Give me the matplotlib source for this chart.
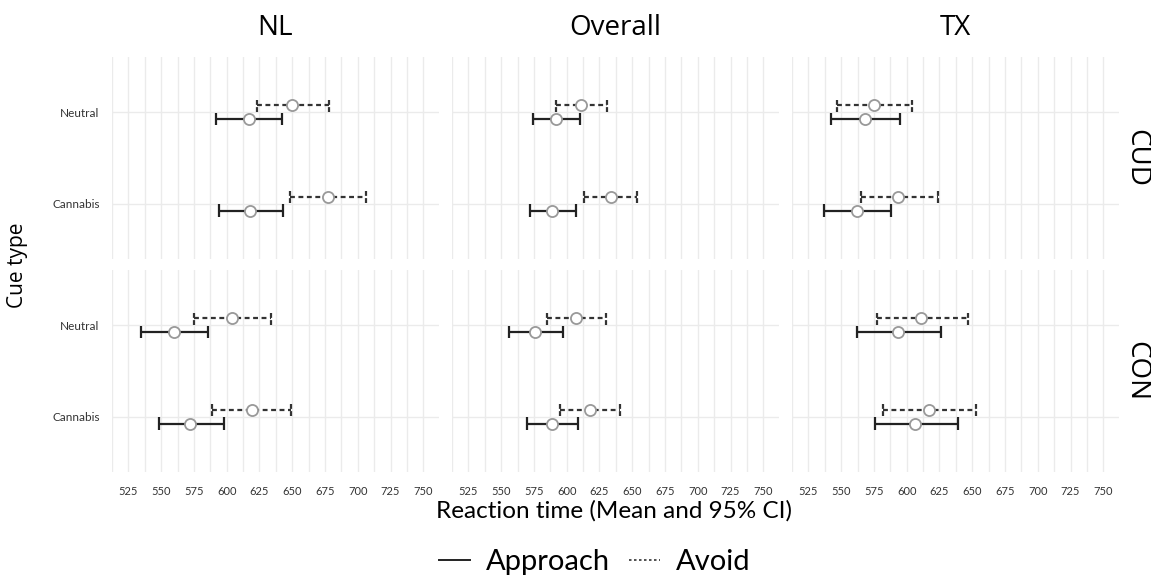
import matplotlib
matplotlib.use("Agg")
import matplotlib.pyplot as plt
from matplotlib.lines import Line2D
import numpy as np

W, H = 1151, 581
groups = ["NL", "Overall", "TX"]
rows = ["CUD", "CON"]
cues = ["Cannabis", "Neutral"]   # bottom to top
conds = ["Approach", "Avoid"]

# [Cannabis, Neutral] per group and row
approach_mean = {
    "NL":      {"CUD": [618, 617], "CON": [572, 560]},
    "Overall": {"CUD": [589, 592], "CON": [589, 576]},
    "TX":      {"CUD": [562, 568], "CON": [606, 593]},
}
approach_lo = {
    "NL":      {"CUD": [594, 592], "CON": [548, 535]},
    "Overall": {"CUD": [572, 574], "CON": [570, 556]},
    "TX":      {"CUD": [537, 542], "CON": [576, 562]},
}
approach_hi = {
    "NL":      {"CUD": [643, 642], "CON": [598, 586]},
    "Overall": {"CUD": [607, 610], "CON": [609, 597]},
    "TX":      {"CUD": [588, 595], "CON": [639, 626]},
}
avoid_mean = {
    "NL":      {"CUD": [677, 650], "CON": [619, 604]},
    "Overall": {"CUD": [634, 611], "CON": [618, 607]},
    "TX":      {"CUD": [593, 575], "CON": [617, 611]},
}
avoid_lo = {
    "NL":      {"CUD": [648, 623], "CON": [589, 575]},
    "Overall": {"CUD": [613, 592], "CON": [595, 585]},
    "TX":      {"CUD": [565, 547], "CON": [582, 577]},
}
avoid_hi = {
    "NL":      {"CUD": [706, 678], "CON": [649, 634]},
    "Overall": {"CUD": [654, 631], "CON": [641, 630]},
    "TX":      {"CUD": [624, 604], "CON": [653, 647]},
}

xticks = [525, 550, 575, 600, 625, 650, 675, 700, 725, 750]

fig = plt.figure(figsize=(W / 100, H / 100), dpi=100)
fig.patch.set_facecolor("white")

col_left = [112, 452, 792]
col_w = 327
row_top = [57, 270]
row_h = 202

TITLE_FONT = ["Open Sans", "DejaVu Sans"]
TICK_FONT = ["Lato", "DejaVu Sans"]

dodge = 0.075
cap = 0.07

for ci, g in enumerate(groups):
    for ri, r in enumerate(rows):
        l = col_left[ci] / W
        b = 1 - (row_top[ri] + row_h) / H
        ax = fig.add_axes([l, b, col_w / W, row_h / H])
        ax.set_xlim(514, 762)
        ax.set_ylim(0.4, 2.6)
        for s in ax.spines.values():
            s.set_visible(False)
        ax.set_xticks(xticks)
        ax.set_xticks(np.arange(512.5, 762, 12.5), minor=True)
        ax.set_yticks([1, 2])
        ax.grid(True, which="both", axis="x", color="#ebebeb", lw=1.0)
        ax.grid(True, which="major", axis="y", color="#ebebeb", lw=1.0)
        ax.set_axisbelow(True)
        ax.tick_params(which="both", length=0)
        ax.tick_params(axis="x", pad=10)
        ax.tick_params(axis="y", pad=9)
        if ri == 1:
            ax.set_xticklabels([str(t) for t in xticks], fontsize=8,
                               family=TICK_FONT, color="#333333")
        else:
            ax.set_xticklabels([])
        if ci == 0:
            ax.set_yticklabels(cues, fontsize=8.5, family=TICK_FONT, color="#333333")
        else:
            ax.set_yticklabels([])
        ypos = np.array([1, 2], dtype=float)
        # approach (below)
        ya = ypos - dodge
        am = approach_mean[g][r]; alo = approach_lo[g][r]; ahi = approach_hi[g][r]
        ax.hlines(ya, alo, ahi, colors="#222222", lw=1.6, linestyles="solid", zorder=3)
        ax.vlines(alo, ya - cap, ya + cap, colors="#222222", lw=1.6, zorder=3)
        ax.vlines(ahi, ya - cap, ya + cap, colors="#222222", lw=1.6, zorder=3)
        ax.plot(am, ya, "o", ms=8, mfc="white", mec="#999999", mew=1.3, zorder=4, ls="none")
        # avoid (above)
        yv = ypos + dodge
        vm = avoid_mean[g][r]; vlo = avoid_lo[g][r]; vhi = avoid_hi[g][r]
        ax.hlines(yv, vlo, vhi, colors="#333333", lw=1.6, linestyles=(0, (2.2, 1.6)), zorder=3)
        ax.vlines(vlo, yv - cap, yv + cap, colors="#333333", lw=1.6, linestyles=(0, (2.2, 1.0)), zorder=3)
        ax.vlines(vhi, yv - cap, yv + cap, colors="#333333", lw=1.6, linestyles=(0, (2.2, 1.0)), zorder=3)
        ax.plot(vm, yv, "o", ms=8, mfc="white", mec="#999999", mew=1.3, zorder=4, ls="none")

        if ri == 0:
            ax.text(0.5, 1 + 22 / row_h, g, transform=ax.transAxes, ha="center",
                    va="baseline", fontsize=20, family=TITLE_FONT, color="black")
        if ci == 2:
            ax.text(1 + 17 / col_w, 0.5, r, transform=ax.transAxes, ha="center",
                    va="center", rotation=-90, fontsize=20, family=TITLE_FONT, color="black")

fig.text(18 / W, 1 - 265 / H, "Cue type", rotation=90, ha="center", va="center",
         fontsize=15, family=TITLE_FONT)
fig.text(614 / W, 1 - 511 / H, "Reaction time (Mean and 95% CI)", ha="center",
         va="center", fontsize=17.5, family=TICK_FONT)

handles = [Line2D([], [], color="#222222", lw=1.4, ls="solid"),
           Line2D([], [], color="#333333", lw=1.2, ls=(0, (1.5, 1.5)))]
fig.legend(handles, conds, loc="center", bbox_to_anchor=(595 / W, 1 - 562 / H),
           ncol=2, frameon=False, prop={"family": TICK_FONT, "size": 21},
           handlelength=1.05, columnspacing=0.65, handletextpad=0.55,
           borderpad=0, borderaxespad=0)

fig.savefig("out.png", dpi=100, facecolor="white")
